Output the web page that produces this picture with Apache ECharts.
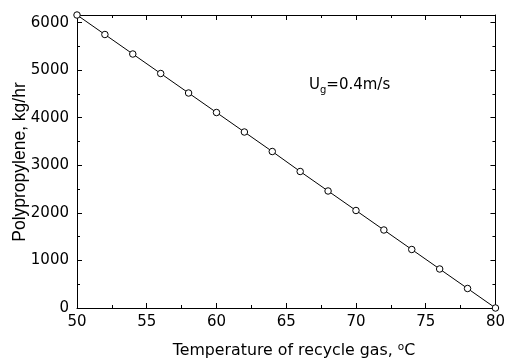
<!DOCTYPE html>
<html>
<head>
<meta charset="utf-8">
<script src="https://cdn.jsdelivr.net/npm/echarts@6/dist/echarts.min.js"></script>
<style>
  html, body { margin: 0; padding: 0; background: #fff; }
  #chart { width: 508px; height: 361px; }
</style>
</head>
<body>
<div id="chart"></div>
<script>
// Recycle gas temperature (°C) and polypropylene production rate (kg/hr)
const temperatures = [50, 52, 54, 56, 58, 60, 62, 64, 66, 68, 70, 72, 74, 76, 78, 80];
const production = [6160, 5750, 5340, 4930, 4520, 4110, 3700, 3290, 2870, 2460, 2050, 1640, 1230, 820, 410, 0];
const xTicks = [50, 55, 60, 65, 70, 75, 80];
const yTicks = [0, 1000, 2000, 3000, 4000, 5000, 6000];

const LABEL_FONT = '"DejaVu Sans", sans-serif';
const TITLE_FONT = '"Liberation Sans", Arial, sans-serif';
const chart = echarts.init(document.getElementById('chart'));

const boxAxis = {
  axisLine: { show: true, onZero: false, lineStyle: { color: '#000', width: 1 } },
  axisTick: { show: true, inside: true, length: 5, lineStyle: { color: '#000' } },
  minorTick: { show: true, splitNumber: 2, length: 3, lineStyle: { color: '#000' } },
  splitLine: { show: false }
};

chart.setOption({
  animation: false,
  backgroundColor: '#fff',
  grid: { left: 77, right: 12, top: 15, bottom: 53 },
  xAxis: [
    Object.assign({}, boxAxis, {
      type: 'value', min: xTicks[0], max: xTicks[xTicks.length - 1], interval: 5,
      position: 'bottom',
      axisLabel: { fontFamily: LABEL_FONT, fontSize: 15, color: '#000', margin: 7 }
    }),
    Object.assign({}, boxAxis, {
      type: 'value', min: xTicks[0], max: xTicks[xTicks.length - 1], interval: 5,
      position: 'top', axisLabel: { show: false }
    })
  ],
  yAxis: [
    Object.assign({}, boxAxis, {
      type: 'value', min: yTicks[0], max: 6160, interval: 1000,
      position: 'left',
      axisLabel: {
        fontFamily: LABEL_FONT, fontSize: 15, color: '#000', margin: 8,
        formatter: v => (yTicks.indexOf(v) >= 0 ? String(v) : '')
      }
    }),
    Object.assign({}, boxAxis, {
      type: 'value', min: yTicks[0], max: 6160, interval: 1000,
      position: 'right', axisLabel: { show: false }
    })
  ],
  graphic: [
    {
      // x-axis title
      type: 'text', x: 294, y: 351,
      style: {
        text: 'Temperature of recycle gas, {sup|o}C',
        fontFamily: LABEL_FONT, fontSize: 15.8, fill: '#000',
        align: 'center', verticalAlign: 'middle',
        rich: { sup: { fontFamily: LABEL_FONT, fontSize: 10.5, fill: '#000', verticalAlign: 'top', padding: [0, 0, 7, 0] } }
      }
    },
    {
      // y-axis title
      type: 'text', x: 20, y: 162, rotation: Math.PI / 2,
      style: {
        text: 'Polypropylene, kg/hr',
        fontFamily: TITLE_FONT, fontSize: 17.5, fill: '#000',
        align: 'center', verticalAlign: 'middle'
      }
    },
    {
      // superficial gas velocity annotation
      type: 'text', left: 309, top: 78,
      style: {
        text: 'U{sub|g}=0.4m/s',
        fontFamily: LABEL_FONT, fontSize: 15, fill: '#000',
        rich: { sub: { fontFamily: LABEL_FONT, fontSize: 10, fill: '#000', verticalAlign: 'bottom', padding: [10, 0, 0, 0] } }
      }
    }
  ],
  series: [{
    type: 'line',
    data: temperatures.map((t, i) => [t, production[i]]),
    symbol: 'circle', symbolSize: 6.5,
    lineStyle: { color: '#000', width: 1 },
    itemStyle: { color: '#fff', borderColor: '#000', borderWidth: 1 },
    clip: true
  }]
});
</script>
</body>
</html>
